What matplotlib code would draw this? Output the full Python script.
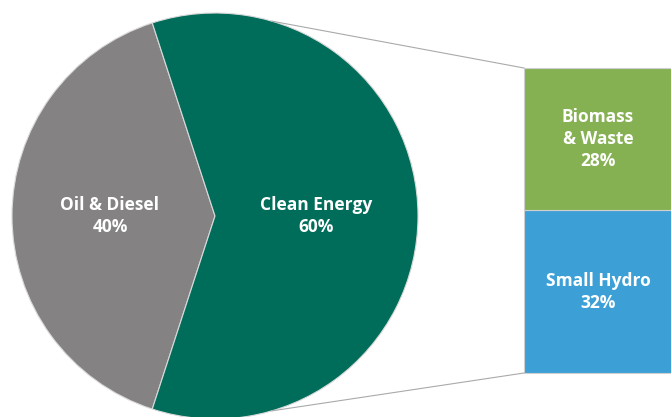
import numpy as np
import matplotlib
matplotlib.use("Agg")
from matplotlib import pyplot as plt

# data
pie_labels = ["Oil & Diesel", "Clean Energy"]
pie_values = [40, 60]
pie_colors = ["#858284", "#006d5b"]

bar_labels = ["Small Hydro", "Biomass\n& Waste"]
bar_values = [32, 28]
bar_colors = ["#3ca0d7", "#86b153"]

W, H = 671, 417
fig = plt.figure(figsize=(W / 100, H / 100), dpi=100)
ax = fig.add_axes([0, 0, 1, 1])

# pie (pixel coords, y up)
cx, cy, r = 215, 201, 203
wedges, _ = ax.pie(pie_values, colors=pie_colors, startangle=108, counterclock=True,
                   center=(cx, cy), radius=r, frame=True,
                   wedgeprops=dict(edgecolor="#d9d9d9", linewidth=0.8))
ax.set_xlim(0, W)
ax.set_ylim(0, H)
ax.set_aspect("equal")
ax.axis("off")

font = dict(color="white", fontsize=12.5, fontweight="bold", ha="center", va="center",
            family=["Open Sans", "DejaVu Sans"], linespacing=1.3)
ax.text(110, H - 216, f"{pie_labels[0]}\n{pie_values[0]}%", **font)
ax.text(316, H - 216, f"{pie_labels[1]}\n{pie_values[1]}%", **font)

# stacked bar
bx0, bw = 524, 170
by0 = H - 373
scale = 305 / sum(bar_values)
bottom = by0
for lab, v, c in zip(bar_labels, bar_values, bar_colors):
    h = v * scale
    ax.bar(bx0, h, width=bw, bottom=bottom, align="edge", color=c,
           edgecolor="#d0d0d0", linewidth=0.8)
    ax.text(bx0 + 74, bottom + h / 2, f"{lab}\n{v}%", **font)
    bottom += h

# connector lines
ang = np.deg2rad(73.7)
ax.plot([cx + r * np.cos(ang), bx0], [cy + r * np.sin(ang), bottom],
        color="#aaaaaa", lw=0.8)
ax.plot([cx + r * np.cos(ang), bx0], [cy - r * np.sin(ang), by0],
        color="#aaaaaa", lw=0.8)

fig.savefig("out.png", dpi=100)
